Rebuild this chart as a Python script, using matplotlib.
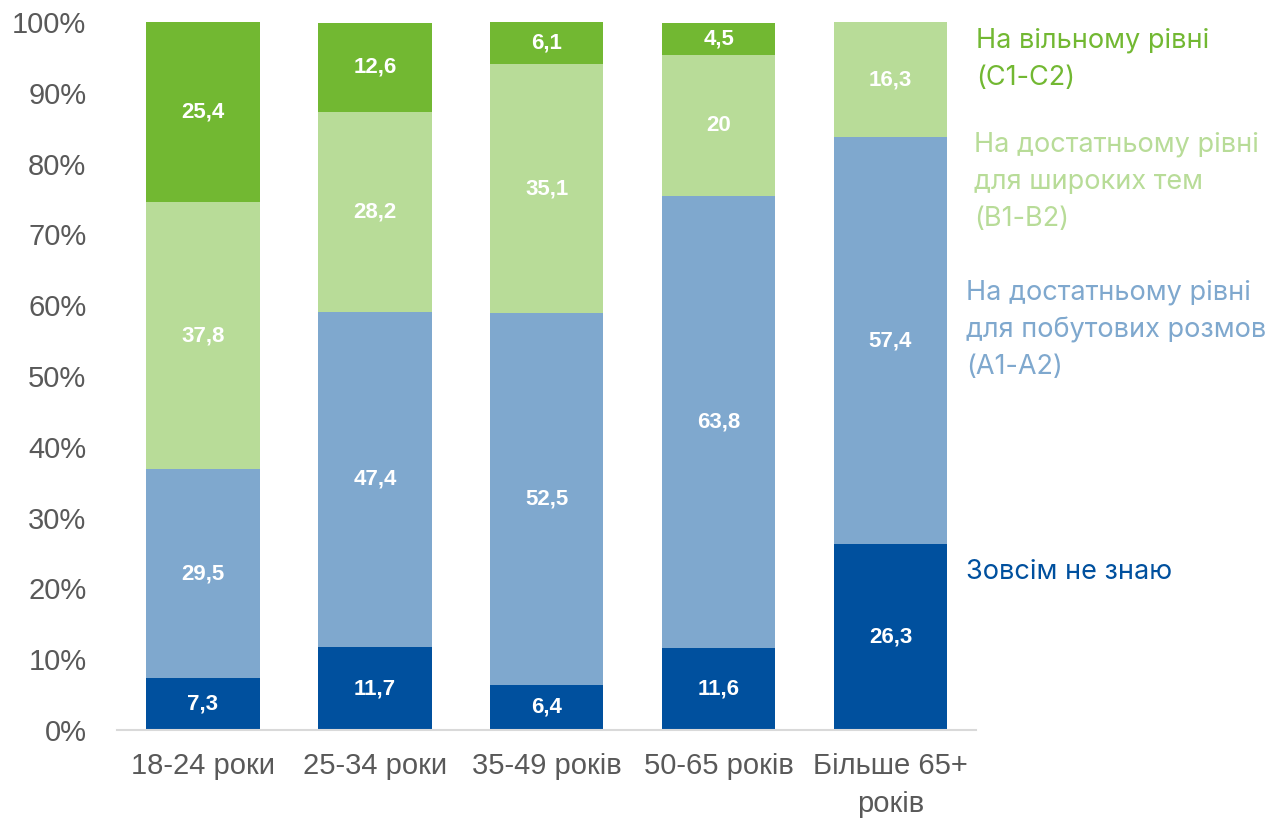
import matplotlib.pyplot as plt
import matplotlib.transforms as mtransforms
import numpy as np

categories = ['18-24 роки', '25-34 роки', '35-49 років', '50-65 років', 'Більше 65+\nроків']
ne_znayu = [7.3, 11.7, 6.4, 11.6, 26.3]
a1_a2 = [29.5, 47.4, 52.5, 63.8, 57.4]
b1_b2 = [37.8, 28.2, 35.1, 20.0, 16.3]
c1_c2 = [25.4, 12.6, 6.1, 4.5, 0.0]

series = [ne_znayu, a1_a2, b1_b2, c1_c2]
colors = ['#00509E', '#7FA8CE', '#B8DC98', '#72B832']
legend_text = ['Зовсім не знаю',
               'На достатньому рівні\nдля побутових розмов\n(A1-A2)',
               'На достатньому рівні\nдля широких тем\n(B1-B2)',
               'На вільному рівні\n(C1-C2)']

plt.rcParams['font.family'] = ['Liberation Sans', 'DejaVu Sans']

fig = plt.figure(figsize=(12.68, 8.26), dpi=100)
ax = fig.add_axes([0.0923, 0.1162, 0.6777, 0.8572])

x = np.arange(len(categories))
bottom = np.zeros(len(categories))
for vals, col in zip(series, colors):
    vals = np.array(vals)
    ax.bar(x, vals, 0.66, bottom=bottom, color=col, zorder=2)
    for xi, v, b in zip(x, vals, bottom):
        if v > 0:
            lbl = f'{v:g}'.replace('.', ',')
            ax.text(xi, b + v / 2, lbl, ha='center', va='center', color='white',
                    fontsize=16, fontweight='bold')
    bottom += vals

ax.set_xlim(-0.5, 4.5)
ax.set_ylim(0, 100)
ax.set_yticks(range(0, 101, 10))
ax.set_yticklabels([f'{v}%' for v in range(0, 101, 10)])
ax.set_xticks(x)
ax.set_xticklabels(categories, linespacing=1.45)
ax.tick_params(axis='both', length=0, labelsize=21, colors='#595959')
ax.tick_params(axis='x', pad=16)
ax.tick_params(axis='y', pad=22)
for s in ['top', 'right', 'left']:
    ax.spines[s].set_visible(False)
ax.spines['bottom'].set_color('#D9D9D9')
ax.spines['bottom'].set_linewidth(1.5)

# labels on the right instead of a legend
trans = mtransforms.blended_transform_factory(fig.transFigure, ax.transData)
legend_y = [22.3, 56.5, 77.4, 94.7]
legend_x = [0.762, 0.762, 0.768, 0.770]
for txt, y, lx, col in zip(legend_text, legend_y, legend_x, colors):
    ax.text(lx, y, txt, transform=trans, ha='left', va='center', color=col,
            fontsize=19.5, linespacing=1.55, family=['Inter', 'DejaVu Sans'])

fig.savefig('out.png', dpi=100)
